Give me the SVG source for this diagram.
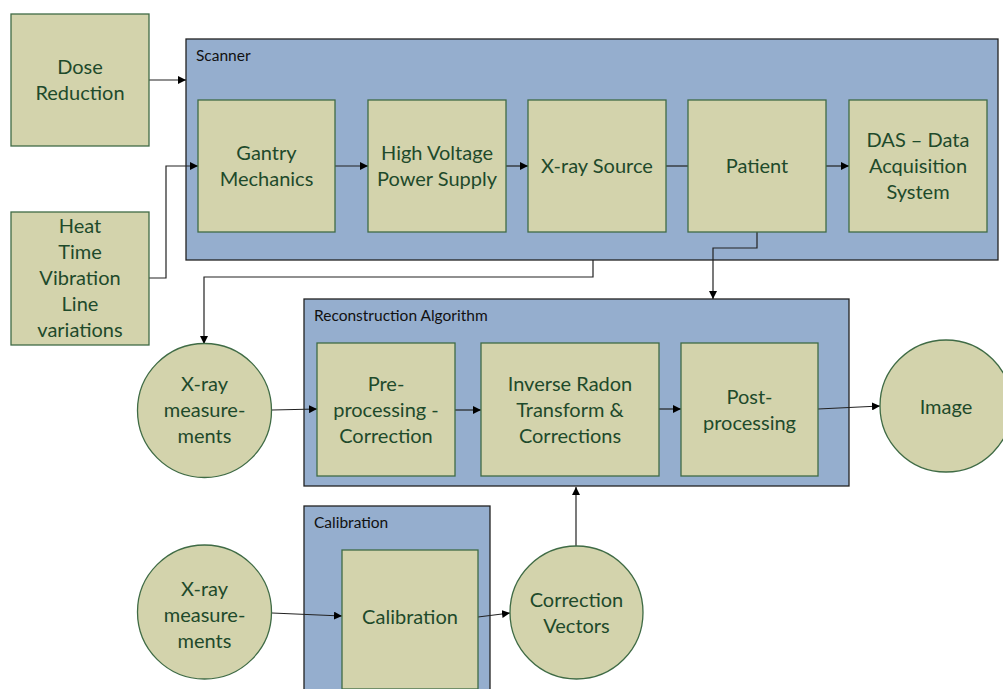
<svg xmlns="http://www.w3.org/2000/svg" width="1003" height="689" viewBox="0 0 1003 689">
<style>
.grp{fill:#95AECE;stroke:#222;stroke-width:1.3}
.nd{fill:#D3D3AC;stroke:#3F6B45;stroke-width:1.3}
.t{font-family:Lato,"Open Sans","Liberation Sans",sans-serif;font-size:20px;fill:#1E4A2B;text-anchor:middle;dominant-baseline:central}
.gt{font-family:Lato,"Open Sans","Liberation Sans",sans-serif;font-size:15.5px;fill:#111}
.c{fill:none;stroke:#222;stroke-width:1.2;marker-end:url(#ah)}
.cn{fill:none;stroke:#222;stroke-width:1.2}
</style>
<defs>
<marker id="ah" viewBox="0 0 10 10" refX="10" refY="5" markerWidth="8" markerHeight="8" markerUnits="userSpaceOnUse" orient="auto">
<path d="M0,0 L10,5 L0,10 z" fill="#000"/>
</marker>
</defs>
<rect width="1003" height="689" fill="#fff"/>
<g id="scanner-group">
<rect class="grp" x="186" y="39" width="812" height="221"/>
<text class="gt" x="196" y="61">Scanner</text>
</g>
<g id="recon-group">
<rect class="grp" x="304" y="299" width="545" height="187"/>
<text class="gt" x="314" y="321">Reconstruction Algorithm</text>
</g>
<g id="calib-group">
<rect class="grp" x="304" y="506" width="186" height="190"/>
<text class="gt" x="314" y="528">Calibration</text>
</g>
<g id="connectors">
<path class="c" d="M149,80 H186"/>
<path class="c" d="M149,278 H166 V166 H198"/>
<path class="c" d="M335,166 H368"/>
<path class="c" d="M506,166 H528"/>
<path class="cn" d="M666,166 H688"/>
<path class="c" d="M826,166 H849"/>
<path class="c" d="M593,260 V277 H204 V344"/>
<path class="c" d="M757,232 V248 H713 V299"/>
<path class="c" d="M272,410 L317,409"/>
<path class="c" d="M455,410 H481"/>
<path class="c" d="M659,409 H681"/>
<path class="c" d="M818,409 L880,406"/>
<path class="c" d="M272,613 L342,616"/>
<path class="c" d="M478,617 L510,613"/>
<path class="c" d="M576,546 V487"/>
</g>
<g id="dose">
<rect class="nd" x="11" y="14" width="138" height="132"/>
<text class="t" x="80" y="66">Dose</text>
<text class="t" x="80" y="92">Reduction</text>
</g>
<g id="heat">
<rect class="nd" x="11" y="212" width="138" height="133"/>
<text class="t" x="80" y="225">Heat</text>
<text class="t" x="80" y="251">Time</text>
<text class="t" x="80" y="277">Vibration</text>
<text class="t" x="80" y="303">Line</text>
<text class="t" x="80" y="329">variations</text>
</g>
<g id="gantry">
<rect class="nd" x="198" y="100" width="137" height="132"/>
<text class="t" x="266.5" y="152">Gantry</text>
<text class="t" x="266.5" y="178">Mechanics</text>
</g>
<g id="hv">
<rect class="nd" x="368" y="100" width="138" height="132"/>
<text class="t" x="437" y="152">High Voltage</text>
<text class="t" x="437" y="178">Power Supply</text>
</g>
<g id="xray-source">
<rect class="nd" x="528" y="100" width="138" height="132"/>
<text class="t" x="597" y="165">X-ray Source</text>
</g>
<g id="patient">
<rect class="nd" x="688" y="100" width="138" height="132"/>
<text class="t" x="757" y="165">Patient</text>
</g>
<g id="das">
<rect class="nd" x="849" y="100" width="138" height="132"/>
<text class="t" x="918" y="139">DAS – Data</text>
<text class="t" x="918" y="165">Acquisition</text>
<text class="t" x="918" y="191">System</text>
</g>
<g id="xray-meas-1">
<circle class="nd" cx="204.5" cy="410.5" r="67"/>
<text class="t" x="204.5" y="383">X-ray</text>
<text class="t" x="204.5" y="409">measure-</text>
<text class="t" x="204.5" y="435">ments</text>
</g>
<g id="pre">
<rect class="nd" x="317" y="343" width="138" height="133"/>
<text class="t" x="386" y="383">Pre-</text>
<text class="t" x="386" y="409">processing -</text>
<text class="t" x="386" y="435">Correction</text>
</g>
<g id="inverse">
<rect class="nd" x="481" y="343" width="178" height="133"/>
<text class="t" x="570" y="383">Inverse Radon</text>
<text class="t" x="570" y="409">Transform &amp;</text>
<text class="t" x="570" y="435">Corrections</text>
</g>
<g id="post">
<rect class="nd" x="681" y="343" width="137" height="133"/>
<text class="t" x="749.5" y="396">Post-</text>
<text class="t" x="749.5" y="422">processing</text>
</g>
<g id="image">
<circle class="nd" cx="946" cy="406" r="66"/>
<text class="t" x="946" y="406">Image</text>
</g>
<g id="xray-meas-2">
<circle class="nd" cx="204.5" cy="612" r="67"/>
<text class="t" x="204.5" y="588">X-ray</text>
<text class="t" x="204.5" y="614">measure-</text>
<text class="t" x="204.5" y="640">ments</text>
</g>
<g id="calibration">
<rect class="nd" x="342" y="550" width="136" height="139"/>
<text class="t" x="410" y="616">Calibration</text>
</g>
<g id="correction-vectors">
<circle class="nd" cx="576.5" cy="612.5" r="66.5"/>
<text class="t" x="576.5" y="599">Correction</text>
<text class="t" x="576.5" y="625">Vectors</text>
</g>
</svg>
